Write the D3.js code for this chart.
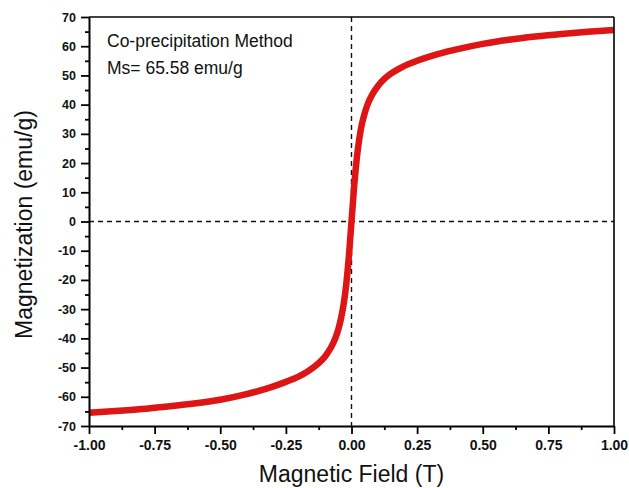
<!DOCTYPE html>
<html>
<head>
<meta charset="utf-8">
<script src="https://cdn.jsdelivr.net/npm/d3@7"></script>
<style>
  html, body { margin: 0; padding: 0; background: #fff; }
  svg { display: block; }
  text { font-family: "Liberation Sans", Arial, sans-serif; }
</style>
</head>
<body>
<svg id="chart" width="629" height="488"></svg>
<script>
// Hysteresis loop (M–H) of magnetite prepared by co-precipitation
const fieldT = [
  -1.00, -0.90, -0.80, -0.70, -0.60, -0.50, -0.40, -0.35, -0.30, -0.25,
  -0.20, -0.175, -0.15, -0.125, -0.10, -0.08, -0.06, -0.05, -0.04, -0.03,
  -0.02, -0.015, -0.01, -0.005,
  0.00,
  0.005, 0.01, 0.015, 0.02, 0.03, 0.04, 0.05, 0.06, 0.08, 0.10,
  0.125, 0.15, 0.175, 0.20, 0.25, 0.30, 0.35, 0.40, 0.50, 0.60,
  0.70, 0.80, 0.90, 1.00
];
const magnetization = [
  -65.5, -64.9, -64.2, -63.3, -62.3, -61.0, -59.1, -57.9, -56.5, -54.9,
  -53.0, -51.8, -50.3, -48.5, -46.1, -43.4, -39.6, -36.8, -33.2, -28.3,
  -21.5, -17.0, -12.0, -6.0,
  0.0,
  6.0, 12.0, 17.0, 21.5, 28.5, 33.5, 37.0, 39.8, 43.6, 46.3,
  48.8, 50.6, 52.0, 53.2, 55.0, 56.5, 57.8, 58.9, 60.8, 62.2,
  63.3, 64.2, 64.95, 65.58
];
const xTicks = [-1.00, -0.75, -0.50, -0.25, 0.00, 0.25, 0.50, 0.75, 1.00];
const yTicks = [-70, -60, -50, -40, -30, -20, -10, 0, 10, 20, 30, 40, 50, 60, 70];
const noteLines = ["Co-precipitation Method", "Ms= 65.58 emu/g"];
const xTitle = "Magnetic Field (T)";
const yTitle = "Magnetization (emu/g)";

const svg = d3.select("#chart");
const m = { left: 89, right: 15, top: 17, bottom: 62 };
const W = 629, H = 488;
const x = d3.scaleLinear().domain([-1, 1]).range([m.left, W - m.right]);
const y = d3.scaleLinear().domain([-70, 70]).range([H - m.bottom, m.top]);
const minus = s => s.replace("\u2212", "-");

// zero reference lines
const dash = "5,4";
svg.append("line")
  .attr("x1", x(-1)).attr("x2", x(1)).attr("y1", y(0)).attr("y2", y(0))
  .attr("stroke", "#111").attr("stroke-width", 1.4).attr("stroke-dasharray", dash);
svg.append("line")
  .attr("x1", x(0)).attr("x2", x(0)).attr("y1", y(70)).attr("y2", y(-70))
  .attr("stroke", "#111").attr("stroke-width", 1.4).attr("stroke-dasharray", dash);

// the magnetization curve
const pts = fieldT.map((h, i) => [h, magnetization[i]]);
svg.append("path")
  .datum(pts)
  .attr("fill", "none")
  .attr("stroke", "#de1515")
  .attr("stroke-width", 6.5)
  .attr("stroke-linecap", "butt")
  .attr("stroke-linejoin", "round")
  .attr("d", d3.line().x(d => x(d[0])).y(d => y(d[1])).curve(d3.curveMonotoneX));

// frame: top and right edges
svg.append("line").attr("x1", x(-1)).attr("x2", x(1)).attr("y1", y(70)).attr("y2", y(70))
  .attr("stroke", "#000").attr("stroke-width", 1.6);
svg.append("line").attr("x1", x(1)).attr("x2", x(1)).attr("y1", y(70)).attr("y2", y(-70))
  .attr("stroke", "#000").attr("stroke-width", 1.6);

// minor ticks
const xMinor = d3.range(-7, 8, 2).map(k => k * 0.125);
const yMinor = d3.range(-13, 14, 2).map(k => k * 5);
svg.append("g").attr("transform", `translate(0,${y(-70)})`)
  .call(d3.axisBottom(x).tickValues(xMinor).tickSize(4).tickFormat(""))
  .call(g => g.select(".domain").remove())
  .selectAll("line").attr("stroke-width", 1.8);
svg.append("g").attr("transform", `translate(${x(-1)},0)`)
  .call(d3.axisLeft(y).tickValues(yMinor).tickSize(4).tickFormat(""))
  .call(g => g.select(".domain").remove())
  .selectAll("line").attr("stroke-width", 1.8);

// major axes
const xAxis = svg.append("g").attr("transform", `translate(0,${y(-70)})`)
  .call(d3.axisBottom(x).tickValues(xTicks).tickSize(8).tickSizeOuter(0).tickPadding(6)
    .tickFormat(d => minus(d3.format(".2f")(d))));
const yAxis = svg.append("g").attr("transform", `translate(${x(-1)},0)`)
  .call(d3.axisLeft(y).tickValues(yTicks).tickSize(8).tickSizeOuter(0).tickPadding(5)
    .tickFormat(d => minus(d3.format("d")(d))));
[[xAxis, 14], [yAxis, 12.5]].forEach(([g, fs]) => {
  g.select(".domain").attr("stroke-width", 2);
  g.selectAll(".tick line").attr("stroke-width", 1.8);
  g.selectAll("text")
    .attr("font-family", "'Liberation Sans', Arial, sans-serif")
    .attr("font-size", fs).attr("font-weight", "bold").attr("fill", "#111");
});

// annotation
svg.append("g").selectAll("text").data(noteLines).join("text")
  .attr("x", 107).attr("y", (d, i) => 47 + i * 27)
  .attr("font-size", 17.5).attr("fill", "#111")
  .text(d => d);

// axis titles
svg.append("text")
  .attr("x", (x(-1) + x(1)) / 2).attr("y", 482)
  .attr("text-anchor", "middle").attr("font-size", 23).attr("fill", "#111")
  .text(xTitle);
svg.append("text")
  .attr("transform", `translate(32,${(y(-70) + y(70)) / 2 + 3}) rotate(-90)`)
  .attr("text-anchor", "middle").attr("font-size", 23).attr("fill", "#111")
  .text(yTitle);
</script>
</body>
</html>
